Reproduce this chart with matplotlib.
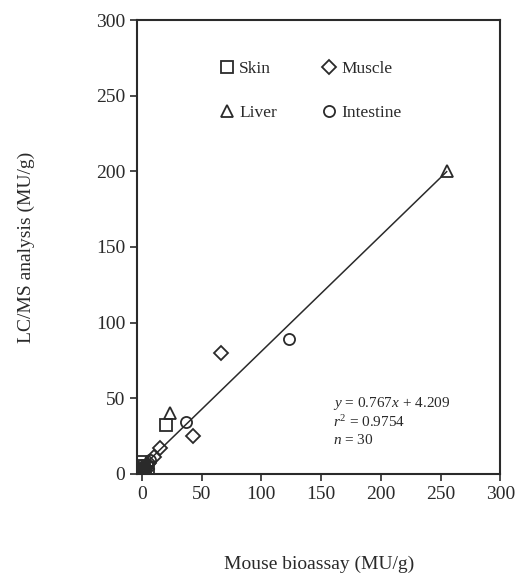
import matplotlib
matplotlib.use("Agg")
import matplotlib.pyplot as plt
import numpy as np

plt.rcParams['font.family'] = ['Liberation Serif', 'DejaVu Serif']
plt.rcParams['mathtext.fontset'] = 'custom'
plt.rcParams['mathtext.rm'] = 'Liberation Serif'
plt.rcParams['mathtext.it'] = 'Liberation Serif:italic'

# Data (MU/g): mouse bioassay (x) vs LC/MS (y)
skin_x = [20, 0, 2, 0, 1, 3, 5, 1]
skin_y = [32, 8, 3, 0, 5, 1, 4, 2]
muscle_x = [66, 43, 15, 10, 6, 2, 0, 4]
muscle_y = [80, 25, 17, 11, 7, 2, 0, 3]
liver_x = [255, 24, 1, 3]
liver_y = [200, 40, 1, 5]
intestine_x = [123, 37, 7, 0, 0, 1, 4, 2, 3, 0]
intestine_y = [89, 34, 9, 3, 0, 1, 6, 5, 2, 6]

slope, intercept = 0.767, 4.209
fit_x = [0, 255]

ink = '#2a2a2a'
fig = plt.figure(figsize=(5.17, 5.77), dpi=100)
ax = fig.add_axes([0.265, 0.179, 0.703, 0.786])

mk = dict(linestyle='none', markerfacecolor='none', markeredgecolor=ink,
          markeredgewidth=1.3, markersize=8)
ax.plot(skin_x, skin_y, marker='s', label='Skin', **mk)
ax.plot(liver_x, liver_y, marker='^', label='Liver', **mk)
ax.plot(muscle_x, muscle_y, marker='D', label='Muscle', **dict(mk, markersize=7))
ax.plot(intestine_x, intestine_y, marker='o', label='Intestine', **mk)

fx = np.array(fit_x)
ax.plot(fx, slope * fx + intercept, color=ink, lw=1.1)

ax.set_xlim(-4, 300)
ax.set_ylim(0, 300)
ax.set_xticks(range(0, 301, 50))
ax.set_yticks(range(0, 301, 50))
ax.tick_params(direction='out', length=5, width=1.2, labelsize=14, colors=ink)
for s in ax.spines.values():
    s.set_linewidth(1.5)
    s.set_color(ink)

ax.set_xlabel('Mouse bioassay (MU/g)', fontsize=14, color=ink, labelpad=38)
ax.set_ylabel('LC/MS analysis (MU/g)', fontsize=14, color=ink, labelpad=44)

leg = ax.legend(ncol=2, frameon=False, loc='upper left', bbox_to_anchor=(0.2, 0.925),
                fontsize=12.5, handletextpad=0.1, columnspacing=2.4, labelspacing=1.6,
                handlelength=1.2, borderaxespad=0)
for t in leg.get_texts():
    t.set_color(ink)

ax.text(0.54, 0.155, r'$y$ = 0.767$x$ + 4.209', transform=ax.transAxes,
        fontsize=11, color=ink, va='center')
ax.text(0.54, 0.115, r'$r^2$ = 0.9754', transform=ax.transAxes,
        fontsize=11, color=ink, va='center')
ax.text(0.54, 0.075, r'$n$ = 30', transform=ax.transAxes,
        fontsize=11, color=ink, va='center')

fig.savefig('out.png', dpi=100)
